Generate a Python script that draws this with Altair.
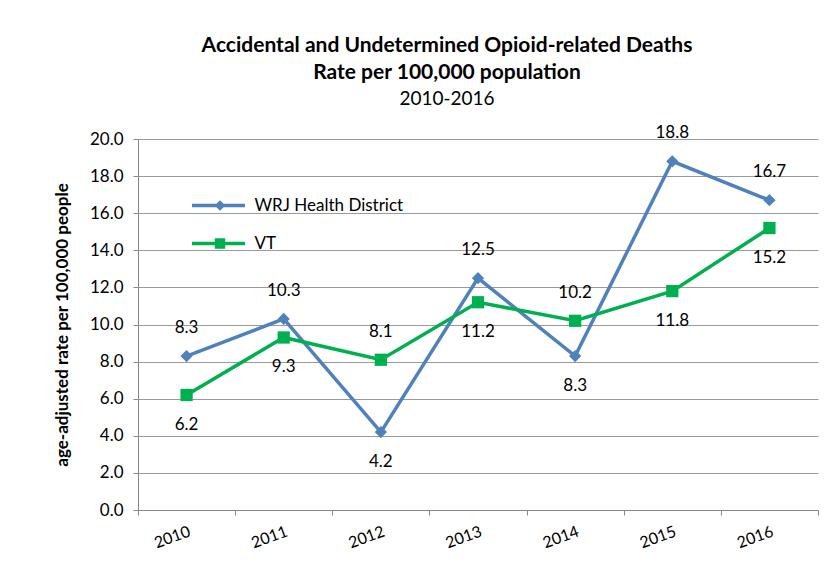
import altair as alt
import pandas as pd

years = ["2010", "2011", "2012", "2013", "2014", "2015", "2016"]
wrj = [8.3, 10.3, 4.2, 12.5, 8.3, 18.8, 16.7]
vt = [6.2, 9.3, 8.1, 11.2, 10.2, 11.8, 15.2]
series_names = ["WRJ Health District", "VT"]
colors = ["#4F81BD", "#00B050"]
shapes = ["diamond", "square"]
y_ticks = [0, 2, 4, 6, 8, 10, 12, 14, 16, 18, 20]

FONT = "Lato"

rows = []
for i, yr in enumerate(years):
    wrj_up = wrj[i] >= vt[i]
    rows.append(dict(year=yr, series=series_names[0], value=wrj[i], upper=wrj_up))
    rows.append(dict(year=yr, series=series_names[1], value=vt[i], upper=not wrj_up))
df = pd.DataFrame(rows)
df["label"] = df["value"].map(lambda v: f"{v:.1f}")

x_enc = alt.X(
    "year:N", sort=years, bandPosition=0.5,
    scale=alt.Scale(type="band", paddingInner=0, paddingOuter=0),
    axis=alt.Axis(title=None, labelAngle=-20, tickBand="extent", grid=False,
                  labelFont=FONT, labelFontSize=16, labelColor="#000",
                  domainColor="#888", tickColor="#888", tickSize=5, labelPadding=8),
)
y_enc = alt.Y(
    "value:Q", scale=alt.Scale(domain=[0, 20]),
    axis=alt.Axis(title="age-adjusted rate per 100,000 people", values=y_ticks, format=".1f",
                  titleFont=FONT, titleFontSize=17, titleFontWeight="bold", titleColor="#000",
                  titlePadding=18,
                  labelFont=FONT, labelFontSize=17, labelColor="#000", labelPadding=10,
                  domainColor="#888", tickColor="#888", tickSize=5,
                  grid=True, gridColor="#9a9a9a", gridWidth=1),
)

base = alt.Chart(df)

lines = base.mark_line(strokeWidth=3.5).encode(
    x=x_enc, y=y_enc,
    color=alt.Color("series:N", sort=series_names,
                    scale=alt.Scale(domain=series_names, range=colors),
                    legend=alt.Legend(orient="none", legendX=52, legendY=38, title=None,
                                      symbolType="stroke", symbolSize=2809, symbolStrokeWidth=3.5,
                                      labelExpr="''", labelFont=FONT, labelFontSize=17,
                                      labelOffset=0, rowPadding=1)),
    detail="series:N",
)

pt_legend = alt.Legend(orient="none", legendX=52, legendY=58, title=None,
                       symbolSize=110, symbolOffset=21.5,
                       labelFont=FONT, labelFontSize=17, labelColor="#000",
                       labelOffset=26, rowPadding=20)

points = base.mark_point(filled=True, size=150, opacity=1).encode(
    x=x_enc, y=y_enc,
    color=alt.Color("series:N", sort=series_names,
                    scale=alt.Scale(domain=series_names, range=colors),
                    legend=pt_legend),
    shape=alt.Shape("series:N", sort=series_names,
                    scale=alt.Scale(domain=series_names, range=shapes),
                    legend=pt_legend),
)

labels_up = base.transform_filter("datum.upper").mark_text(
    dy=-28, font=FONT, fontSize=17, color="#000"
).encode(x=x_enc, y=y_enc, text="label:N")

labels_down = base.transform_filter("!datum.upper").mark_text(
    dy=30, font=FONT, fontSize=17, color="#000"
).encode(x=x_enc, y=y_enc, text="label:N")

chart = alt.layer(lines, points, labels_up, labels_down).resolve_legend(
    color="independent", shape="independent"
).properties(
    width=680, height=371,
    autosize=alt.AutoSizeParams(type="none"),
    padding={"left": 130, "top": 131, "right": 12, "bottom": 40},
    title=alt.TitleParams(
        text=["Accidental and Undetermined Opioid-related Deaths", "Rate per 100,000 population"],
        subtitle="2010-2016",
        font=FONT, fontSize=21, fontWeight="bold", color="#000", lineHeight=27,
        subtitleFont=FONT, subtitleFontSize=19, subtitleColor="#000", subtitlePadding=7,
        anchor="middle", dx=-31, offset=15,
    ),
).configure_view(stroke=None)

chart.save("out.html", embed_options={"renderer": "svg", "actions": False})
